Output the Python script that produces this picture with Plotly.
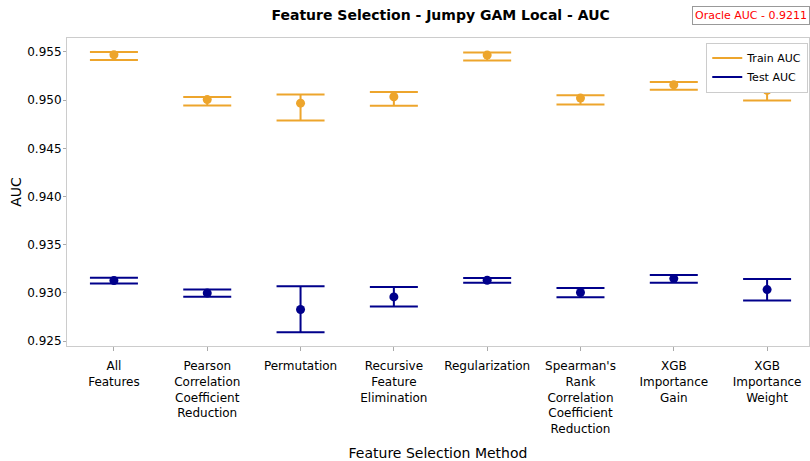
import plotly.graph_objects as go

methods = ["All<br>Features", "Pearson<br>Correlation<br>Coefficient<br>Reduction", "Permutation",
           "Recursive<br>Feature<br>Elimination", "Regularization",
           "Spearman's<br>Rank<br>Correlation<br>Coefficient<br>Reduction",
           "XGB<br>Importance<br>Gain", "XGB<br>Importance<br>Weight"]

train_mean = [0.9547, 0.95005, 0.94968, 0.95035, 0.95467, 0.95021, 0.95158, 0.95101]
train_hi   = [0.95500, 0.95031, 0.95058, 0.95085, 0.95494, 0.95051, 0.95188, 0.95148]
train_lo   = [0.95417, 0.94945, 0.94788, 0.94941, 0.95410, 0.94955, 0.95108, 0.94995]

test_mean = [0.93129, 0.92999, 0.92829, 0.92959, 0.93132, 0.93005, 0.93149, 0.93035]
test_hi   = [0.93159, 0.93035, 0.93069, 0.93062, 0.93155, 0.93052, 0.93185, 0.93145]
test_lo   = [0.93099, 0.92962, 0.92593, 0.92859, 0.93105, 0.92955, 0.93105, 0.92922]

y_ticks = [0.925, 0.930, 0.935, 0.940, 0.945, 0.950, 0.955]

ORANGE = "#EDA52C"
BLUE = "#00008B"
FONT = "DejaVu Sans"

x = list(range(len(methods)))
fig = go.Figure()

def add_series(mean, hi, lo, color, name):
    fig.add_trace(go.Scatter(
        x=x, y=mean, mode="markers", showlegend=False, name=name,
        marker=dict(color=color, size=9),
        error_y=dict(type="data", symmetric=False,
                     array=[h - m for h, m in zip(hi, mean)],
                     arrayminus=[m - l for m, l in zip(mean, lo)],
                     color=color, thickness=2, width=24),
    ))
    fig.add_trace(go.Scatter(
        x=[None], y=[None], mode="lines", name=name,
        line=dict(color=color, width=2),
    ))

add_series(train_mean, train_hi, train_lo, ORANGE, "Train AUC")
add_series(test_mean, test_hi, test_lo, BLUE, "Test AUC")

fig.update_layout(
    width=810, height=461,
    margin=dict(l=67, r=0, t=38, b=103),
    paper_bgcolor="white", plot_bgcolor="white",
    font=dict(family=FONT, size=12, color="black"),
    title=dict(text="<b>Feature Selection - Jumpy GAM Local - AUC</b>",
               x=0.544, xanchor="center", y=0.967, yanchor="middle",
               font=dict(size=14, family=FONT)),
    xaxis=dict(
        tickmode="array", tickvals=x, ticktext=methods,
        range=[-0.503, 7.449], showgrid=False, zeroline=False,
        showline=True, mirror=True, linecolor="#cccccc", linewidth=1,
        ticks="outside", ticklen=4, tickcolor="#aaaaaa",
        tickfont=dict(size=12), ticklabelstandoff=5,
        title=dict(text="Feature Selection Method", font=dict(size=14), standoff=15),
    ),
    yaxis=dict(
        range=[0.92450, 0.95644], tickvals=y_ticks, tickformat=".3f",
        showgrid=False, zeroline=False,
        showline=True, mirror=True, linecolor="#cccccc", linewidth=1,
        ticks="outside", ticklen=3, tickcolor="#aaaaaa",
        tickfont=dict(size=12), ticklabelstandoff=-1,
        title=dict(text="AUC", font=dict(size=14), standoff=2),
    ),
    legend=dict(x=0.999, y=0.985, xanchor="right", yanchor="top",
                bordercolor="#cccccc", borderwidth=1, bgcolor="white",
                font=dict(size=11), itemwidth=30, tracegroupgap=0),
    annotations=[dict(
        text="Oracle AUC - 0.9211", xref="paper", yref="paper",
        x=0.842, y=1.074, xanchor="left", yanchor="middle", showarrow=False,
        font=dict(color="red", size=11, family=FONT),
        bordercolor="#999999", borderwidth=1, borderpad=2, bgcolor="white",
    )],
)

fig.write_html("out.html", config={"displayModeBar": False},
               post_script="document.body.style.margin='0';document.body.style.overflow='hidden';")
